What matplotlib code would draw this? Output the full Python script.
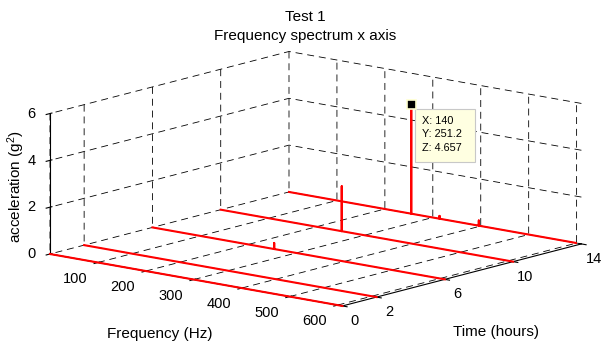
import numpy as np
import matplotlib
matplotlib.use("Agg")
import matplotlib.pyplot as plt
from matplotlib.patches import Rectangle
from matplotlib.transforms import IdentityTransform

# ---------------- data ----------------
times = [0, 2, 6, 10, 14]
freq_t0 = [0, 610]
amp_t0 = [0, 0]
freq_t2 = [0, 610]
amp_t2 = [0, 0]
freq_t6 = [0, 254, 254, 254, 610]
amp_t6 = [0, 0, 0.26, 0, 0]
freq_t10 = [0, 252.5, 252.5, 252.5, 610]
amp_t10 = [0, 0, 1.92, 0, 0]
freq_t14 = [0, 255, 255, 255, 314, 314, 314, 396, 396, 396, 610]
amp_t14 = [0, 0, 4.657, 0, 0, 0.12, 0, 0, 0.22, 0, 0]

freq_ticks = [100, 200, 300, 400, 500, 600]
time_ticks = [0, 2, 6, 10, 14]
acc_ticks = [0, 2, 4, 6]

tip_freq, tip_time, tip_acc = 255, 14, 4.657
tip_lines = ["X: 140", "Y: 251.2", "Z: 4.657"]

title_lines = ["Test 1", "Frequency spectrum x axis"]
xlabel = "Frequency (Hz)"
ylabel = "Time (hours)"
zlabel = "acceleration (g$^2$)"

# ---------------- style ----------------
plt.rcParams.update({
    "font.family": ["Liberation Sans", "DejaVu Sans"],
    "font.size": 10.5,
    "mathtext.default": "regular",
    "grid.color": "k",
    "grid.linestyle": "--",
    "grid.linewidth": 0.6,
    "lines.scale_dashes": False,
    "lines.dashed_pattern": [5, 3.5],
})

W, H = 609, 348
fig = plt.figure(figsize=(W / 100, H / 100), dpi=100)
ax = fig.add_axes([0.1, 0.1, 0.8, 0.8], projection="3d", proj_type="ortho")
ax.view_init(elev=12.4, azim=-50.4)
ax.set_box_aspect((1, 0.988, 0.379))

spectra = [(freq_t0, amp_t0), (freq_t2, amp_t2), (freq_t6, amp_t6),
           (freq_t10, amp_t10), (freq_t14, amp_t14)]
for t, (f, a) in zip(times, spectra):
    ax.plot(f, [t] * len(f), a, color="#ff0000", lw=1.5)

ax.set_xlim(0, 610)
ax.set_ylim(0, 14)
ax.set_zlim(0, 6)
ax.set_xticks(freq_ticks)
ax.set_yticks(time_ticks)
ax.set_zticks(acc_ticks)
ax.tick_params(labelsize=10.5)
ax.tick_params(axis="x", pad=1)
ax.tick_params(axis="y", pad=0.5)
ax.tick_params(axis="z", pad=-2.6)

for axis in (ax.xaxis, ax.yaxis, ax.zaxis):
    axis.set_pane_color((1, 1, 1, 0))
    axis.pane.set_edgecolor((1, 1, 1, 0))
    axis.line.set_color("k")
    axis.line.set_linewidth(0.8)

# put the z axis on the left front corner, as in the reference
ax.zaxis.set_ticks_position("lower")
fig.canvas.draw()
zl = ax.zaxis.get_majorticklabels()
if zl and zl[0].get_window_extent().x0 > W / 2:
    ax.zaxis.set_ticks_position("upper")
    fig.canvas.draw()

for t in ax.xaxis.get_major_ticks():
    t.label1.set_horizontalalignment("right")
for t in ax.zaxis.get_major_ticks():
    t.label1.set_horizontalalignment("right")
    t.label1.set_verticalalignment("center")

# ---------------- fit the box into the reference layout ----------------
def to_px(x, y, z):
    M = ax.get_proj()
    v = M @ np.array([x, y, z, 1.0])
    return ax.transData.transform((v[0] / v[3], v[1] / v[3]))

A_t = np.array([50.0, H - 254.0])     # corner (fmin, t0, 0)
B_t = np.array([581.4, H - 244.0])    # corner (fmax, tmax, 0)
pos = ax.get_position()
c = np.array([(pos.x0 + pos.x1) / 2 * W, (pos.y0 + pos.y1) / 2 * H])
side = pos.width * W
a = to_px(0, 0, 0)
b = to_px(610, 14, 0)
s = np.linalg.norm(B_t - A_t) / np.linalg.norm(b - a)
a_new = c + s * (a - c)
c_new = c + (A_t - a_new)
side_new = side * s
ax.set_position([(c_new[0] - side_new / 2) / W, (c_new[1] - side_new / 2) / H,
                 side_new / W, side_new / H])
fig.canvas.draw()

# ---------------- data tip ----------------
mx, my = to_px(tip_freq, tip_time, tip_acc)
fig.add_artist(Rectangle((mx + 4, my - 57), 60, 53, transform=IdentityTransform(),
                         fc="#ffffe1", ec="#c8c8c8", lw=0.8, zorder=5))
for i, line in enumerate(tip_lines):
    fig.text(mx + 11, my - 16 - 13.8 * i, line, transform=IdentityTransform(),
             ha="left", va="center", fontsize=7.8, zorder=6)
fig.add_artist(Rectangle((mx - 4.5, my - 4.5), 9, 9, transform=IdentityTransform(),
                         fc="k", ec="#ffffd0", lw=1.2, zorder=6))

# ---------------- labels ----------------
fig.text(305 / W, 1 - 17 / H, title_lines[0], ha="center", va="center", fontsize=11)
fig.text(305 / W, 1 - 36 / H, title_lines[1], ha="center", va="center", fontsize=11)
fig.text(160 / W, 1 - 334 / H, xlabel, ha="center", va="center", fontsize=11)
fig.text(496 / W, 1 - 332 / H, ylabel, ha="center", va="center", fontsize=11)
fig.text(16 / W, 1 - 187 / H, zlabel, ha="center", va="center", rotation=90, fontsize=11)

fig.savefig("out.png", dpi=100, facecolor="white")
